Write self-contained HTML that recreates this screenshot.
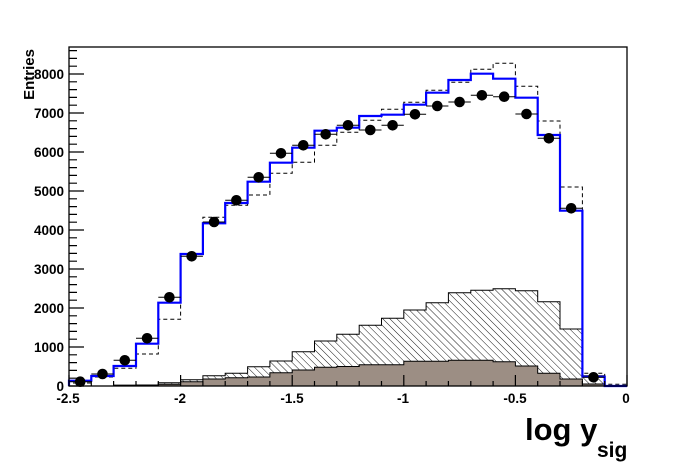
<!DOCTYPE html>
<html><head><meta charset="utf-8"><style>
body{margin:0;background:#fff}
svg{display:block}
text{font-family:"Liberation Sans",Arial,sans-serif;font-weight:bold}
</style></head><body>
<svg width="696" height="472" viewBox="0 0 696 472" xmlns="http://www.w3.org/2000/svg">
<defs>
<pattern id="h" patternUnits="userSpaceOnUse" width="5" height="5" patternTransform="rotate(-45)">
<line x1="0" y1="0" x2="0" y2="5" stroke="#000" stroke-width="0.9"/>
</pattern>
</defs>
<rect width="696" height="472" fill="#fff"/>
<path d="M69,386V386H113.6V385.3H136V385H158.3V382.7H180.6V379.7H202.9V375.7H225.2V373.3H247.6V366.7H269.9V361H292.2V351.7H314.5V341H336.8V334.3H359.2V325.3H381.5V318.3H403.8V310H426.1V302.7H448.4V292.7H470.8V290.3H493.1V288.7H515.4V290.7H537.7V301.7H560V329H582.4V375.7H604.7V386Z" fill="url(#h)" stroke="#000" stroke-width="1"/>
<path d="M69,386H113.6V385.3H136V385H158.3V384.3H180.6V381.7H202.9V379H225.2V377.7H247.6V377H269.9V372.7H292.2V370H314.5V367.3H336.8V366.5H359.2V364.7H403.8V361.3H448.4V360.3H493.1V361.7H515.4V366H537.7V373.3H560V379H582.4V384H604.7V386Z" fill="#9c8e84" stroke="#000" stroke-width="1"/>
<path d="M69,386V383H91.3V377H113.6V368.3H136V354H158.3V319.3H180.6V254H202.9V217.3H225.2V205.3H247.6V195H269.9V173.3H292.2V162.3H314.5V145.3H336.8V132.3H359.2V120.3H381.5V109.3H403.8V102.3H426.1V90.3H448.4V82.3H470.8V69.3H493.1V63.3H515.4V86.3H537.7V121H560V187H582.4V373.3H604.7V384.3H627" fill="none" stroke="#000" stroke-width="1" stroke-dasharray="4,3"/>
<path d="M69,386V380.7H91.3V376H113.6V366H136V343.7H158.3V302.7H180.6V254H202.9V223.3H225.2V203H247.6V181.7H269.9V162.7H292.2V147.7H314.5V130.7H336.8V127.7H359.2V116H381.5V114.7H403.8V104.7H426.1V92.7H448.4V80H470.8V73.7H493.1V78.7H515.4V97.7H537.7V135H560V210.7H582.4V376.7H604.7V386H627" fill="none" stroke="#0000ff" stroke-width="2.2"/>
<g fill="#000" stroke="#000" stroke-width="1">
<path d="M69,381.7H91.3M91.3,374H113.6M113.6,360.3H136M136,338.3H158.3M158.3,297.3H180.6M180.6,256.3H202.9M202.9,222H225.2M225.2,200.3H247.6M247.6,177.3H269.9M269.9,153.3H292.2M292.2,145.3H314.5M314.5,134.3H336.8M336.8,125.3H359.2M359.2,130H381.5M381.5,125.3H403.8M403.8,114.3H426.1M426.1,106H448.4M448.4,102H470.8M470.8,95.3H493.1M493.1,96.7H515.4M515.4,114H537.7M537.7,138.3H560M560,208.3H582.4M582.4,377.3H604.7" fill="none"/>
<circle cx="80.2" cy="381.7" r="4.8"/><circle cx="102.5" cy="374" r="4.8"/><circle cx="124.8" cy="360.3" r="4.8"/><circle cx="147.1" cy="338.3" r="4.8"/><circle cx="169.4" cy="297.3" r="4.8"/><circle cx="191.7" cy="256.3" r="4.8"/><circle cx="214.1" cy="222" r="4.8"/><circle cx="236.4" cy="200.3" r="4.8"/><circle cx="258.7" cy="177.3" r="4.8"/><circle cx="281" cy="153.3" r="4.8"/><circle cx="303.3" cy="145.3" r="4.8"/><circle cx="325.7" cy="134.3" r="4.8"/><circle cx="348" cy="125.3" r="4.8"/><circle cx="370.3" cy="130" r="4.8"/><circle cx="392.6" cy="125.3" r="4.8"/><circle cx="415" cy="114.3" r="4.8"/><circle cx="437.3" cy="106" r="4.8"/><circle cx="459.6" cy="102" r="4.8"/><circle cx="481.9" cy="95.3" r="4.8"/><circle cx="504.2" cy="96.7" r="4.8"/><circle cx="526.5" cy="114" r="4.8"/><circle cx="548.9" cy="138.3" r="4.8"/><circle cx="571.2" cy="208.3" r="4.8"/><circle cx="593.5" cy="377.3" r="4.8"/>
</g>
<rect x="69" y="47" width="558" height="339" fill="none" stroke="#000" stroke-width="1.3"/>
<path d="M69,386h15M69,347h15M69,308h15M69,269h15M69,230h15M69,191h15M69,152h15M69,113h15M69,74h15
M69,378.2h8M69,370.4h8M69,362.6h8M69,354.8h8M69,339.2h8M69,331.4h8M69,323.6h8M69,315.8h8M69,300.2h8M69,292.4h8M69,284.6h8M69,276.8h8M69,261.2h8M69,253.4h8M69,245.6h8M69,237.8h8M69,222.2h8M69,214.4h8M69,206.6h8M69,198.8h8M69,183.2h8M69,175.4h8M69,167.6h8M69,159.8h8M69,144.2h8M69,136.4h8M69,128.6h8M69,120.8h8M69,105.2h8M69,97.4h8M69,89.6h8M69,81.8h8M69,66.2h8M69,58.4h8M69,50.6h8" stroke="#000" stroke-width="1.2"/>
<path d="M69,386v-11M180.6,386v-11M292.2,386v-11M403.8,386v-11M515.4,386v-11M627,386v-11
M91.3,386v-5M113.6,386v-5M136,386v-5M158.3,386v-5M202.9,386v-5M225.2,386v-5M247.6,386v-5M269.9,386v-5M314.5,386v-5M336.8,386v-5M359.2,386v-5M381.5,386v-5M426.1,386v-5M448.4,386v-5M470.8,386v-5M493.1,386v-5M537.7,386v-5M560,386v-5M582.4,386v-5M604.7,386v-5" stroke="#000" stroke-width="1.2"/>
<g font-size="13.5" text-anchor="end">
<text x="64" y="391">0</text><text x="64" y="352">1000</text><text x="64" y="313">2000</text><text x="64" y="274">3000</text><text x="64" y="235">4000</text><text x="64" y="196">5000</text><text x="64" y="157">6000</text><text x="64" y="118">7000</text><text x="64" y="79">8000</text>
</g>
<g font-size="13.5" text-anchor="middle">
<text x="68" y="403">-2.5</text><text x="180" y="403">-2</text><text x="292" y="403">-1.5</text><text x="403" y="403">-1</text><text x="515" y="403">-0.5</text><text x="626" y="403">0</text>
</g>
<text transform="translate(34,49) rotate(-90)" text-anchor="end" font-size="15">Entries</text>
<text x="525" y="440" font-size="31">log y</text>
<text x="597" y="457" font-size="21">sig</text>
</svg>
</body></html>
